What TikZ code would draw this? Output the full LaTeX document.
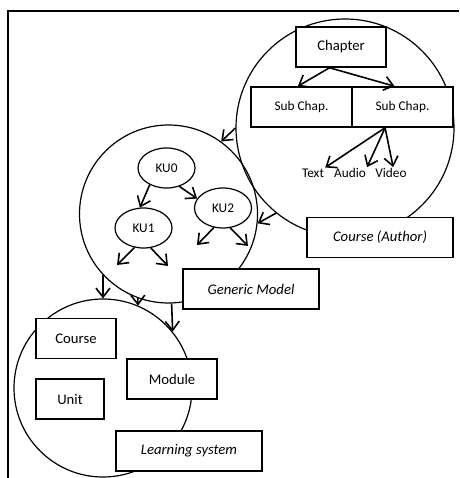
\documentclass[tikz,border=0pt]{standalone}
\usepackage{fontspec}
\setmainfont{Carlito}
\usetikzlibrary{arrows.meta}
\usetikzlibrary{shapes.geometric}

\begin{document}
\begin{tikzpicture}[x=1pt, y=-1pt,
        ring_style/.style={circle,draw=black,line width=1.2pt,inner sep=0pt},
        box_style/.style={rectangle,draw=black,fill=white,line width=1.5pt,minimum height=40pt,inner sep=0pt,font=\fontsize{14.7}{17}\selectfont},
        title_style/.style={box_style,font=\fontsize{14.7}{17}\selectfont\itshape},
        sub_style/.style={box_style,minimum width=101pt,font=\fontsize{13.3}{16}\selectfont},
        ku_style/.style={ellipse,draw=black,line width=1.2pt,minimum width=57pt,minimum height=40pt,inner sep=0pt,font=\fontsize{13.3}{16}\selectfont},
        media_style/.style={inner sep=1pt,font=\fontsize{13.3}{16}\selectfont},
        edge_style/.style={draw=black,line width=1.6pt,-{Straight Barb[length=9pt,width=14pt]}}]

        \useasboundingbox (0,0) rectangle (459,478);

        % frame
        \draw [line width=2pt] (459,11) -- (8,11) -- (8,478);

        % the three levels
        \node [ring_style,minimum size=218pt](author_ring) at (345,128) {};

        \node [ring_style,minimum size=178pt](generic_ring) at (168.5,214) {};

        \node [ring_style,minimum size=178pt](learn_ring) at (103,388) {};

        % course (author)
        \node [box_style,minimum width=90pt](chapter) at (341,47) {Chapter};

        \node [sub_style](sub1) at (301.5,107) {Sub Chap.};

        \node [sub_style](sub2) at (402.5,107) {Sub Chap.};

        \node [media_style](text_l) at (313,173) {Text};

        \node [media_style](audio_l) at (350,173) {Audio};

        \node [media_style](video_l) at (391,173) {Video};

        \node [title_style,minimum width=146pt](author_t) at (380,237.5) {Course (Author)};

        % generic model
        \node [ku_style](ku0) at (166.5,168) {KU0};

        \node [ku_style](ku2) at (223,208) {KU2};

        \node [ku_style](ku1) at (143.5,228) {KU1};

        \coordinate (ku1_a) at (117,265);
        \coordinate (ku1_b) at (168,266);
        \coordinate (ku2_a) at (197,245);
        \coordinate (ku2_b) at (248,246);

        \node [title_style,minimum width=136pt](generic_t) at (251,289) {Generic Model};

        % learning system
        \node [box_style,minimum width=80pt](course) at (76,338.5) {Course};

        \node [box_style,minimum width=68pt](unit) at (70,399) {Unit};

        \node [box_style,minimum width=90pt](module) at (172,379) {Module};

        \node [title_style,minimum width=146pt](learn_t) at (189,451) {Learning system};

        \draw [edge_style] (chapter.241) -- (sub1.100);

        \draw [edge_style] (chapter.241) -- (sub2.111);

        \draw [edge_style] (sub2.230) -- (text_l.north east);

        \draw [edge_style] (sub2.230) -- (audio_l.north east);

        \draw [edge_style] (sub2.230) -- (video_l.70);

        \draw [edge_style] (author_ring.180) -- (generic_ring.54);

        \draw [edge_style] (author_ring.231) -- (generic_ring.354);

        \draw [edge_style] (ku0.225) -- (ku1.100);

        \draw [edge_style] (ku0.305) -- (ku2.160);

        \draw [edge_style] (ku2.245) -- (ku2_a);

        \draw [edge_style] (ku2.290) -- (ku2_b);

        \draw [edge_style] (ku1.245) -- (ku1_a);

        \draw [edge_style] (ku1.290) -- (ku1_b);

        \draw [edge_style] (generic_ring.223) -- (learn_ring.north);

        \draw [edge_style] (generic_ring.250) -- (learn_ring.67);

        \draw [edge_style] (generic_ring.272) -- (learn_ring.39);

        \end{tikzpicture}
\end{document}
